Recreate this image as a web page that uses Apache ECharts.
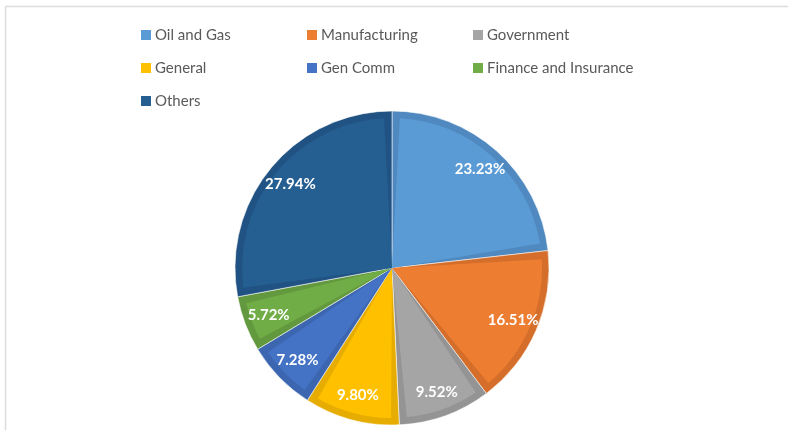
<!DOCTYPE html>
<html>
<head>
<meta charset="utf-8">
<script src="https://cdn.jsdelivr.net/npm/echarts@6/dist/echarts.min.js"></script>
<style>
  html, body { margin: 0; padding: 0; background: #ffffff; }
  #chart { width: 788px; height: 430px; }
</style>
</head>
<body>
<div id="chart"></div>
<script>
// Share of accounts by industry
const categories = ['Oil and Gas', 'Manufacturing', 'Government', 'General', 'Gen Comm', 'Finance and Insurance', 'Others'];
const shares = [23.23, 16.51, 9.52, 9.80, 7.28, 5.72, 27.94];
const fillColors = ['#5B9BD5', '#ED7D31', '#A5A5A5', '#FFC000', '#4472C4', '#70AD47', '#255E91'];
const edgeColors = ['#4F89BF', '#D46E2A', '#949494', '#E6AD00', '#3C66B0', '#63993E', '#205383'];

// legend columns (names listed top to bottom)
const legendColumns = [
  ['Oil and Gas', 'General', 'Others'],
  ['Manufacturing', 'Gen Comm'],
  ['Government', 'Finance and Insurance']
];
const legendLefts = [136, 302, 468];

const center = [392, 268];
const outerR = 157;

function items(colors) {
  return categories.map((name, i) => ({
    name: name,
    value: shares[i],
    itemStyle: { color: colors[i] }
  }));
}

const chart = echarts.init(document.getElementById('chart'), null, { renderer: 'canvas' });

const legends = legendColumns.map((names, c) => ({
  orient: 'vertical',
  left: legendLefts[c],
  top: 22,
  itemWidth: 10,
  itemHeight: 10,
  itemGap: 17,
  icon: 'rect',
  selectedMode: false,
  textStyle: {
    fontFamily: 'Lato',
    fontSize: 15,
    color: '#595959',
    lineHeight: 16,
    padding: [0, 0, 0, -1]
  },
  data: names
}));

chart.setOption({
  animation: false,
  backgroundColor: '#ffffff',
  legend: legends,
  graphic: [
    { type: 'line', shape: { x1: 5.5, y1: 6.5, x2: 788, y2: 6.5 }, style: { stroke: '#dcdcdc', lineWidth: 1.5 }, silent: true },
    { type: 'line', shape: { x1: 5.5, y1: 6.5, x2: 5.5, y2: 430 }, style: { stroke: '#dcdcdc', lineWidth: 1.5 }, silent: true }
  ],
  series: [
    {
      // inner face of each slice
      type: 'pie',
      z: 3,
      center: center,
      radius: [0, outerR - 7],
      startAngle: 90,
      clockwise: true,
      padAngle: 6,
      silent: true,
      label: { show: false },
      labelLine: { show: false },
      emphasis: { disabled: true },
      data: items(fillColors)
    },
    {
      // darker rim of each slice
      type: 'pie',
      z: 2,
      center: center,
      radius: [0, outerR],
      startAngle: 90,
      clockwise: true,
      silent: true,
      itemStyle: { borderColor: 'rgba(255,255,255,0.55)', borderWidth: 1 },
      label: { show: false },
      labelLine: { show: false },
      emphasis: { disabled: true },
      data: items(edgeColors)
    },
    {
      // percentage labels
      type: 'pie',
      z: 4,
      center: center,
      radius: [101, outerR],
      startAngle: 90,
      clockwise: true,
      silent: true,
      itemStyle: { color: 'rgba(0,0,0,0)' },
      label: {
        show: true,
        position: 'inside',
        formatter: (p) => p.value.toFixed(2) + '%',
        color: '#ffffff',
        fontFamily: 'Lato',
        fontWeight: 'bold',
        fontSize: 15
      },
      labelLine: { show: false },
      emphasis: { disabled: true },
      data: categories.map((name, i) => ({ name: name, value: shares[i] }))
    }
  ]
});
</script>
</body>
</html>
